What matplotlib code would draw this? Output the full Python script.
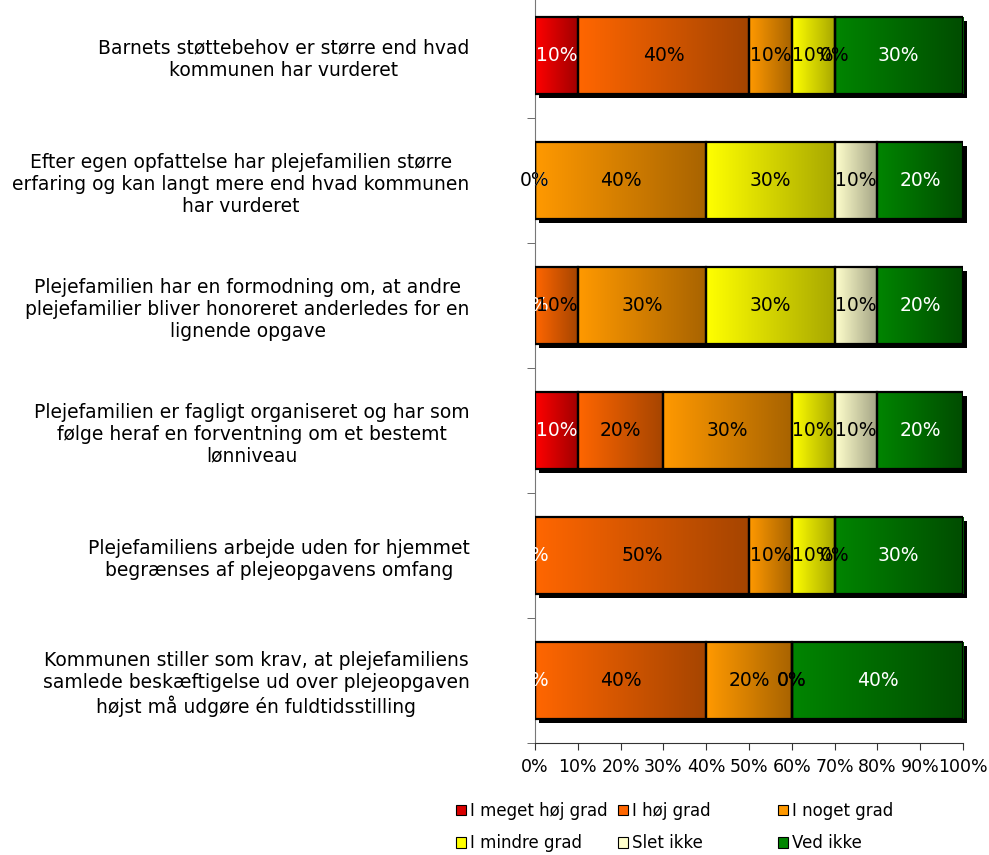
import numpy as np
import matplotlib
matplotlib.use("Agg")
import matplotlib.pyplot as plt
import matplotlib.transforms as mtransforms
from matplotlib.patches import Patch

# categories (top to bottom)
categories = [
    "Barnets støttebehov er større end hvad\nkommunen har vurderet",
    "Efter egen opfattelse har plejefamilien større\nerfaring og kan langt mere end hvad kommunen\nhar vurderet",
    "Plejefamilien har en formodning om, at andre\nplejefamilier bliver honoreret anderledes for en\nlignende opgave",
    "Plejefamilien er fagligt organiseret og har som\nfølge heraf en forventning om et bestemt\nlønniveau",
    "Plejefamiliens arbejde uden for hjemmet\nbegrænses af plejeopgavens omfang",
    "Kommunen stiller som krav, at plejefamiliens\nsamlede beskæftigelse ud over plejeopgaven\nhøjst må udgøre én fuldtidsstilling",
]

# answer shares in percent, one list per answer option
meget_hoj = [10, 0, 0, 10, 0, 0]
hoj = [40, 0, 10, 20, 50, 40]
noget = [10, 40, 30, 30, 10, 20]
mindre = [10, 30, 30, 10, 10, 0]
slet_ikke = [0, 10, 10, 10, 0, 0]
ved_ikke = [30, 20, 20, 20, 30, 40]

series_names = ["I meget høj grad", "I høj grad", "I noget grad",
                "I mindre grad", "Slet ikke", "Ved ikke"]
series = [meget_hoj, hoj, noget, mindre, slet_ikke, ved_ikke]

# (light, dark) colours for the horizontal gradient of each series
colors = [
    ((1.00, 0.00, 0.00), (0.63, 0.00, 0.00)),
    ((1.00, 0.40, 0.00), (0.65, 0.27, 0.00)),
    ((1.00, 0.60, 0.00), (0.66, 0.39, 0.00)),
    ((1.00, 1.00, 0.00), (0.66, 0.66, 0.00)),
    ((1.00, 1.00, 0.80), (0.64, 0.64, 0.52)),
    ((0.00, 0.52, 0.00), (0.00, 0.30, 0.00)),
]
text_colors = ["white", "black", "black", "black", "black", "white"]

plt.rcParams["font.family"] = ["DejaVu Sans"]
fs = 12.5
fs_big = 13.5

fig = plt.figure(figsize=(9.89, 8.55), dpi=100)
ax = fig.add_axes([535 / 989, 1 - 743 / 855, 428 / 989, 750 / 855])

y = np.arange(len(categories))
bar_h = 0.62
totals = np.sum(series, axis=0)

# drop shadow behind each full bar
shadow_tr = mtransforms.offset_copy(ax.transData, fig=fig, x=4, y=-4, units="dots")
ax.barh(y, totals, height=bar_h, color="black", transform=shadow_tr, zorder=1,
        clip_on=False)

left = np.zeros(len(categories))
for vals, (c0, c1), tc in zip(series, colors, text_colors):
    vals = np.array(vals, dtype=float)
    bars = ax.barh(y, vals, left=left, height=bar_h, facecolor="none",
                   edgecolor="black", linewidth=1.6, zorder=3)
    grad = np.linspace(c0, c1, 64)[None, :, :]
    for rect, v in zip(bars.patches, vals):
        if v <= 0:
            continue
        x0 = rect.get_x()
        y0 = rect.get_y()
        im = ax.imshow(grad, extent=(x0, x0 + rect.get_width(), y0 + rect.get_height(), y0),
                       aspect="auto", interpolation="bilinear", zorder=2)
        clip = plt.Rectangle((x0, y0), rect.get_width(), rect.get_height(),
                             transform=ax.transData)
        im.set_clip_path(clip)
    for yi, l, v in zip(y, left, vals):
        ax.text(l + v / 2, yi, f"{int(v)}%", ha="center", va="center",
                color=tc, fontsize=fs_big, zorder=4)
    left += vals

ax.set_xlim(0, 100)
ax.set_ylim(len(categories) - 0.5, -0.5)

ax.set_xticks(np.arange(0, 101, 10))
ax.set_xticklabels([f"{v}%" for v in range(0, 101, 10)], fontsize=fs)
ax.set_yticks(y)
ax.set_yticklabels(categories, fontsize=fs_big)
for lab in ax.get_yticklabels():
    lab.set_multialignment("center")
ax.set_yticks(np.arange(-0.5, len(categories), 1), minor=True)
ax.tick_params(axis="y", which="major", length=0, pad=47)
ax.tick_params(axis="y", which="minor", length=6, direction="out", color="#555555")
ax.tick_params(axis="x", length=5, direction="out", pad=6, color="#333333")

for s in ["top", "right"]:
    ax.spines[s].set_visible(False)
ax.spines["left"].set_color("#777777")
ax.spines["bottom"].set_color("#333333")

# legend: three columns of two rows, placed like the original
handles = [Patch(facecolor=c0 if i != 0 else (0.85, 0, 0), edgecolor="black", linewidth=0.8)
           for i, (c0, c1) in enumerate(colors)]
col_x = [456, 618, 778]
for k in range(3):
    idx = [k, k + 3]
    leg = fig.legend([handles[i] for i in idx], [series_names[i] for i in idx],
                     loc="upper left", bbox_to_anchor=(col_x[k] / 989, 1 - 802 / 855),
                     frameon=False, fontsize=12, handlelength=0.6, handleheight=0.6,
                     handletextpad=0.25, labelspacing=0.85, borderpad=0, borderaxespad=0)

fig.savefig("out.png", dpi=100)
